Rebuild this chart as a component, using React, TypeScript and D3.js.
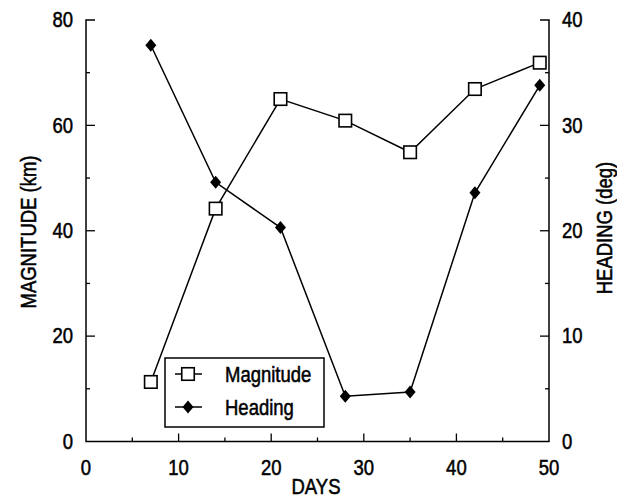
import React, { useEffect, useRef } from 'react';
import * as d3 from 'd3';

const days = [7, 14, 21, 28, 35, 42, 49];
const magnitude = [11.3, 44.2, 65.0, 60.9, 54.9, 66.9, 71.9];
const heading = [37.6, 24.6, 20.3, 4.3, 4.7, 23.6, 33.8];
const xTicks = [0, 10, 20, 30, 40, 50];
const leftTicks = [0, 20, 40, 60, 80];
const rightTicks = [0, 10, 20, 30, 40];
const seriesNames = ['Magnitude', 'Heading'];

const App: React.FC = () => {
  const svgRef = useRef<SVGSVGElement>(null);

  useEffect(() => {
    if (!svgRef.current) return;
    const svg = d3.select(svgRef.current);
    svg.selectAll('*').remove();

    const left = 86, right = 549, top = 20, bottom = 441.5;
    const font = 'Liberation Sans, Arial, Helvetica, sans-serif';
    const stretch = 1.18; // scanned text in the original is a bit tall

    const x = d3.scaleLinear().domain([0, 50]).range([left, right]);
    const yL = d3.scaleLinear().domain([0, 80]).range([bottom, top]);
    const yR = d3.scaleLinear().domain([0, 40]).range([bottom, top]);

    const g = svg.append('g');

    // text helper: position by transform so the vertical stretch stays local
    const addText = (tx: number, ty: number, str: string | number, anchor: string, rot = 0, dy = '0') =>
      g.append('text')
        .attr('transform', `translate(${tx},${ty})${rot ? ` rotate(${rot})` : ''} scale(1,${stretch})`)
        .attr('dy', dy)
        .attr('text-anchor', anchor)
        .style('font-family', font)
        .style('font-size', '18.5px')
        .attr('fill', '#000')
        .attr('stroke', '#000')
        .attr('stroke-width', 0.45)
        .text(str);

    // axes lines (left, bottom, right)
    g.append('path')
      .attr('d', `M${left + 9},${top}H${left}V${bottom}H${right}V${top}H${right - 9}`)
      .attr('fill', 'none')
      .attr('stroke', '#000')
      .attr('stroke-width', 1.5);

    // major + minor ticks, pointing inward
    const minorX = d3.range(5, 50, 10);
    const minorL = d3.range(10, 80, 20);
    const minorR = d3.range(5, 40, 10);
    const tick = (x1: number, y1: number, x2: number, y2: number) =>
      g.append('line').attr('x1', x1).attr('y1', y1).attr('x2', x2).attr('y2', y2)
        .attr('stroke', '#000').attr('stroke-width', 1.3);

    xTicks.slice(1, -1).forEach(t => tick(x(t), bottom, x(t), bottom - 8));
    minorX.forEach(t => tick(x(t), bottom, x(t), bottom - 4));
    leftTicks.slice(1, -1).forEach(t => tick(left, yL(t), left + 9, yL(t)));
    minorL.forEach(t => tick(left, yL(t), left + 4, yL(t)));
    rightTicks.slice(1, -1).forEach(t => tick(right, yR(t), right - 9, yR(t)));
    minorR.forEach(t => tick(right, yR(t), right - 4, yR(t)));

    // tick labels
    xTicks.forEach(t => addText(x(t), 475, t, 'middle'));
    leftTicks.forEach(t => addText(73, yL(t), t, 'end', 0, '0.33em'));
    rightTicks.forEach(t => addText(562, yR(t), t, 'start', 0, '0.33em'));

    // axis titles
    addText(316, 494, 'DAYS', 'middle');
    addText(36, 232, 'MAGNITUDE (km)', 'middle', -90);
    addText(612, 228, 'HEADING (deg)', 'middle', -90);

    // lines
    const magLine = d3.line<number>().x((d, i) => x(days[i])).y(d => yL(d));
    const headLine = d3.line<number>().x((d, i) => x(days[i])).y(d => yR(d));
    g.append('path').attr('d', magLine(magnitude)).attr('fill', 'none').attr('stroke', '#000').attr('stroke-width', 1.5);
    g.append('path').attr('d', headLine(heading)).attr('fill', 'none').attr('stroke', '#000').attr('stroke-width', 1.5);

    const sq = 12.5;
    const diamond = 'M0,-6.5L5.5,0L0,6.5L-5.5,0Z';

    g.selectAll('.mag').data(magnitude).enter().append('rect')
      .attr('x', (d, i) => x(days[i]) - sq / 2).attr('y', d => yL(d) - sq / 2)
      .attr('width', sq).attr('height', sq).attr('fill', '#fff').attr('stroke', '#000').attr('stroke-width', 1.6);
    g.selectAll('.head').data(heading).enter().append('path')
      .attr('d', diamond)
      .attr('transform', (d, i) => `translate(${x(days[i])},${yR(d)})`)
      .attr('fill', '#000');

    // legend
    const lg = g.append('g');
    lg.append('rect').attr('x', 165).attr('y', 358).attr('width', 159).attr('height', 69)
      .attr('fill', '#fff').attr('stroke', '#000').attr('stroke-width', 1.5);
    seriesNames.forEach((name, i) => {
      const cy = 374 + i * 33;
      lg.append('line').attr('x1', 175).attr('x2', 202).attr('y1', cy).attr('y2', cy)
        .attr('stroke', '#000').attr('stroke-width', 1.5);
      if (i === 0) {
        lg.append('rect').attr('x', 188 - sq / 2).attr('y', cy - sq / 2).attr('width', sq).attr('height', sq)
          .attr('fill', '#fff').attr('stroke', '#000').attr('stroke-width', 1.6);
      } else {
        lg.append('path').attr('d', diamond).attr('transform', `translate(188,${cy})`).attr('fill', '#000');
      }
      addText(225, cy, name, 'start', 0, '0.36em');
    });
  }, []);

  return (
    <svg ref={svgRef} width={617} height={498}
      style={{ position: 'absolute', left: 0, top: 0, background: '#fff' }} />
  );
};

export default App;
